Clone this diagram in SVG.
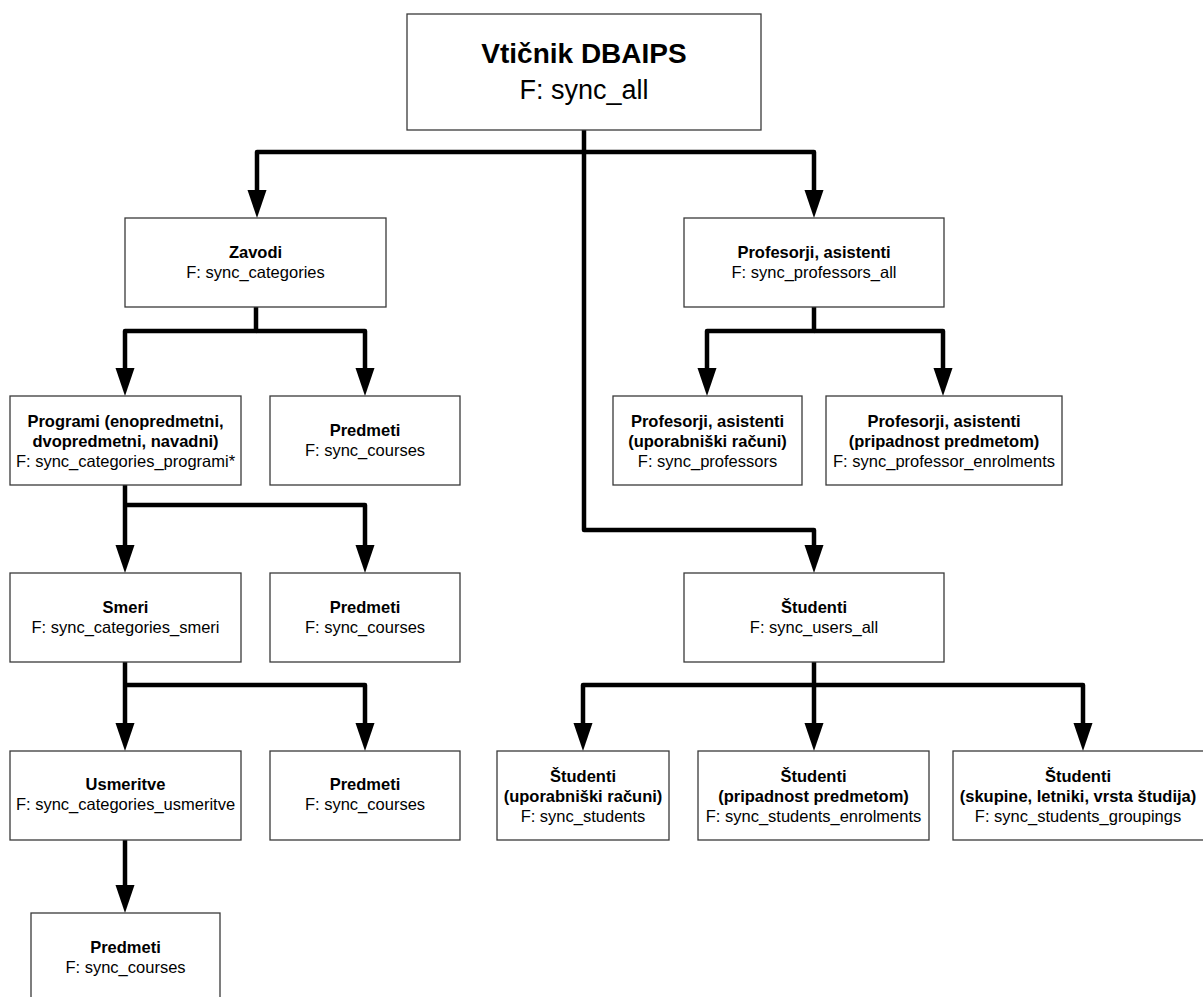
<svg xmlns="http://www.w3.org/2000/svg" width="1203" height="997" viewBox="0 0 1203 997">
<style>
  .box { fill: #ffffff; stroke: #3a3a3a; stroke-width: 1.3; }
  .t { font-family: "Liberation Sans", Arial, sans-serif; font-size: 16.5px; fill: #000; text-anchor: middle; }
  .b { font-weight: bold; }
  .conn { fill: none; stroke: #000; stroke-width: 4.5; stroke-linejoin: round; marker-end: url(#ah); }
</style>
<defs>
  <marker id="ah" markerUnits="userSpaceOnUse" markerWidth="20" markerHeight="30" viewBox="0 0 20 28" refX="10" refY="0" orient="0" overflow="visible">
    <path d="M0.5,0 L19.5,0 L10,28 Z" fill="#000"/>
  </marker>
</defs>
<rect width="1203" height="997" fill="#ffffff"/>

<g id="connectors">
  <path class="conn" d="M584,130 V152 H257 V190"/>
  <path class="conn" d="M584,152 H814 V190"/>
  <path class="conn" d="M584,152 V530 H814 V545"/>
  <path class="conn" d="M256,307 V331 H125 V368"/>
  <path class="conn" d="M256,331 H365 V368"/>
  <path class="conn" d="M814,307 V331 H707 V368"/>
  <path class="conn" d="M814,331 H943 V368"/>
  <path class="conn" d="M125,485 V545"/>
  <path class="conn" d="M125,505 H365 V545"/>
  <path class="conn" d="M125,662 V723"/>
  <path class="conn" d="M125,685 H365 V723"/>
  <path class="conn" d="M814,662 V723"/>
  <path class="conn" d="M814,685 H583 V723"/>
  <path class="conn" d="M814,685 H1083 V723"/>
  <path class="conn" d="M125,839 V885"/>
</g>

<g id="node-root">
  <rect class="box" x="407" y="14" width="354" height="116"/>
  <text class="t b" x="584" y="63" style="font-size:28px">Vtičnik DBAIPS</text>
  <text class="t" x="584" y="99" style="font-size:27px">F: sync_all</text>
</g>

<g id="node-zavodi">
  <rect class="box" x="125" y="218" width="261" height="89"/>
  <text class="t b" x="255.5" y="258">Zavodi</text>
  <text class="t" x="255.5" y="278">F: sync_categories</text>
</g>

<g id="node-profesorji">
  <rect class="box" x="684" y="218" width="260" height="89"/>
  <text class="t b" x="814" y="258">Profesorji, asistenti</text>
  <text class="t" x="814" y="278">F: sync_professors_all</text>
</g>

<g id="node-programi">
  <rect class="box" x="10" y="396" width="231" height="89"/>
  <text class="t b" x="125.5" y="427">Programi (enopredmetni,</text>
  <text class="t b" x="125.5" y="447">dvopredmetni, navadni)</text>
  <text class="t" x="125.5" y="467">F: sync_categories_programi*</text>
</g>

<g id="node-predmeti-1">
  <rect class="box" x="270" y="396" width="190" height="89"/>
  <text class="t b" x="365" y="436">Predmeti</text>
  <text class="t" x="365" y="456">F: sync_courses</text>
</g>

<g id="node-prof-uporabniski">
  <rect class="box" x="613" y="396" width="189" height="89"/>
  <text class="t b" x="707.5" y="427">Profesorji, asistenti</text>
  <text class="t b" x="707.5" y="447">(uporabniški računi)</text>
  <text class="t" x="707.5" y="467">F: sync_professors</text>
</g>

<g id="node-prof-pripadnost">
  <rect class="box" x="826" y="396" width="236" height="89"/>
  <text class="t b" x="944" y="427">Profesorji, asistenti</text>
  <text class="t b" x="944" y="447">(pripadnost predmetom)</text>
  <text class="t" x="944" y="467">F: sync_professor_enrolments</text>
</g>

<g id="node-smeri">
  <rect class="box" x="10" y="573" width="231" height="89"/>
  <text class="t b" x="125.5" y="613">Smeri</text>
  <text class="t" x="125.5" y="633">F: sync_categories_smeri</text>
</g>

<g id="node-predmeti-2">
  <rect class="box" x="270" y="573" width="190" height="89"/>
  <text class="t b" x="365" y="613">Predmeti</text>
  <text class="t" x="365" y="633">F: sync_courses</text>
</g>

<g id="node-studenti">
  <rect class="box" x="684" y="573" width="260" height="89"/>
  <text class="t b" x="814" y="613">Študenti</text>
  <text class="t" x="814" y="633">F: sync_users_all</text>
</g>

<g id="node-usmeritve">
  <rect class="box" x="10" y="751" width="231" height="89"/>
  <text class="t b" x="125.5" y="790">Usmeritve</text>
  <text class="t" x="125.5" y="810">F: sync_categories_usmeritve</text>
</g>

<g id="node-predmeti-3">
  <rect class="box" x="270" y="751" width="190" height="89"/>
  <text class="t b" x="365" y="790">Predmeti</text>
  <text class="t" x="365" y="810">F: sync_courses</text>
</g>

<g id="node-stud-uporabniski">
  <rect class="box" x="497" y="751" width="172" height="89"/>
  <text class="t b" x="583" y="782">Študenti</text>
  <text class="t b" x="583" y="802">(uporabniški računi)</text>
  <text class="t" x="583" y="822">F: sync_students</text>
</g>

<g id="node-stud-pripadnost">
  <rect class="box" x="698" y="751" width="231" height="89"/>
  <text class="t b" x="813.5" y="782">Študenti</text>
  <text class="t b" x="813.5" y="802">(pripadnost predmetom)</text>
  <text class="t" x="813.5" y="822">F: sync_students_enrolments</text>
</g>

<g id="node-stud-skupine">
  <rect class="box" x="953" y="751" width="260" height="89"/>
  <text class="t b" x="1078" y="782">Študenti</text>
  <text class="t b" x="1078" y="802">(skupine, letniki, vrsta študija)</text>
  <text class="t" x="1078" y="822">F: sync_students_groupings</text>
</g>

<g id="node-predmeti-4">
  <rect class="box" x="31" y="913" width="189" height="89"/>
  <text class="t b" x="125.5" y="953">Predmeti</text>
  <text class="t" x="125.5" y="973">F: sync_courses</text>
</g>
</svg>
